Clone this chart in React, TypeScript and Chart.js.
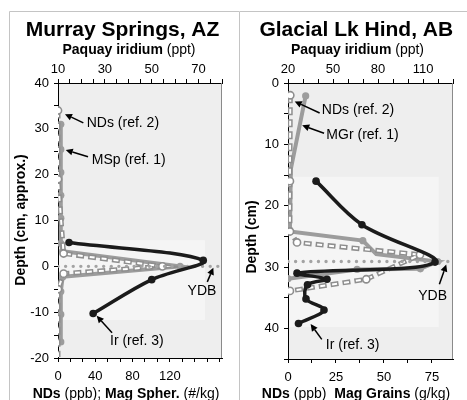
import React, { useEffect, useRef } from "react";
import { Chart, registerables } from "chart.js";
Chart.register(...registerables);

const FONT = "'Liberation Sans', Arial, Helvetica, sans-serif";

// ---------------- Murray Springs, AZ ----------------
const msNdsDepth = [34, 19, 2.8, 0, -1.6, -5, -19.8];
const msNdsValue = [0, 0, 6, 112, 6, 0, 0];
const msNdsMarked = [1, 1, 1, 1, 1, 1, 0];
const msMspDepth = [31, 25.5, 20.5, 15.5, 10.5, 5, 3.3, 0, -2.3, -5.5, -10.5, -16.5];
const msMspValue = [3, 3, 3, 3, 3, 3, 5, 131, 5, 3, 3, 3];
const msIrDepth = [5.2, 1.3, -2.9, -10.3];
const msIrValue = [14.7, 72, 50, 25];
const msYdbDepth = 0;
const msTopLabels = [10, 30, 50, 70];
const msBottomLabels = [0, 40, 80, 120];
const msDepthLabels = [-20, -10, 0, 10, 20, 30, 40];

// ---------------- Glacial Lk Hind, AB ----------------
const glNdsDepth = [2, 16, 24.2, 26, 28, 32, 33.9];
const glNdsValue = [1.2, 1, 1, 4.7, 68.8, 40.8, 1];
const glNdsMarked = [1, 1, 1, 1, 1, 1, 1];
const glMgrDepth = [2.1, 14, 24.2, 25.7, 27.9, 29.1, 30.3, 30.4, 31.9];
const glMgrValue = [9.2, 1.5, 1, 39, 46, 78, 69, 36, 0];
const glMgrMarked = [1, 0, 0, 1, 0, 1, 1, 1, 1];
const glIrDepth = [16, 23.1, 29.2, 31, 32, 32.9, 35.2, 37, 39.2];
const glIrValue = [38.7, 69.3, 118, 26, 46, 33, 32, 44, 27];
const glYdbDepth = 29.1;
const glTopLabels = [20, 50, 80, 110];
const glBottomLabels = [0, 25, 50, 75];
const glDepthLabels = [0, 10, 20, 30, 40];

type Seg = { t: string; b: boolean };
type AxisSpec = { min: number; max: number; step: number; labels: number[]; reverse?: boolean };
type Note = { text: string; tx: number; ty: number; align: CanvasTextAlign; x1: number; y1: number; x2: number; y2: number };

interface PanelSpec {
  width: number;
  plot: { left: number; right: number; top: number; bottom: number };
  title: string;
  titleX: number;
  topTitle: Seg[];
  topTitleX: number;
  bottomTitle: Seg[];
  bottomTitleX: number;
  yTitle: Seg[];
  yTitleX: number;
  yTitleY: number;
  xt: AxisSpec;
  xb: AxisSpec;
  y: AxisSpec;
  nds: { depth: number[]; value: number[]; marked: number[] };
  mag: { depth: number[]; value: number[]; marked: number[] };
  ir: { depth: number[]; value: number[] };
  ydb: number;
  irBox: { xMax: number; yA: number; yB: number };
  notes: Note[];
  frameLeft: boolean;
}

const GRAY_LINE = "#9c9c9c";
const GRAY_DASH = "#8e8e8e";
const BLACK = "#1b1b1b";

function makeTicks(a: AxisSpec) {
  const out: { value: number }[] = [];
  const n = Math.round((a.max - a.min) / a.step);
  for (let i = 0; i <= n; i++) {
    const v = a.min + i * a.step;
    if (v <= a.max + 1e-9) out.push({ value: v });
  }
  return out;
}

function drawRich(ctx: CanvasRenderingContext2D, segs: Seg[], cx: number, baseY: number, size: number) {
  let total = 0;
  const widths = segs.map((s) => {
    ctx.font = `${s.b ? "bold " : ""}${size}px ${FONT}`;
    const w = ctx.measureText(s.t).width;
    total += w;
    return w;
  });
  let x = cx - total / 2;
  ctx.textAlign = "left";
  ctx.textBaseline = "alphabetic";
  segs.forEach((s, i) => {
    ctx.font = `${s.b ? "bold " : ""}${size}px ${FONT}`;
    ctx.fillText(s.t, x, baseY);
    x += widths[i];
  });
}

function arrow(ctx: CanvasRenderingContext2D, x1: number, y1: number, x2: number, y2: number) {
  const ang = Math.atan2(y2 - y1, x2 - x1);
  const L = 7, W = 3.5;
  const bx = x2 - L * Math.cos(ang);
  const by = y2 - L * Math.sin(ang);
  ctx.strokeStyle = "#000";
  ctx.lineWidth = 1.5;
  ctx.beginPath();
  ctx.moveTo(x1, y1);
  ctx.lineTo(bx, by);
  ctx.stroke();
  ctx.fillStyle = "#000";
  ctx.beginPath();
  ctx.moveTo(x2, y2);
  ctx.lineTo(bx + W * Math.sin(ang), by - W * Math.cos(ang));
  ctx.lineTo(bx - W * Math.sin(ang), by + W * Math.cos(ang));
  ctx.closePath();
  ctx.fill();
}

function buildConfig(p: PanelSpec): any {
  const labelCb = (a: AxisSpec) => (v: any) => {
    const n = Number(v);
    const hit = a.labels.find((l) => Math.abs(l - n) < 1e-6);
    return hit === undefined ? "" : String(hit);
  };
  const scale = (a: AxisSpec, position: string, fix: (s: any) => void, pad: number) => ({
    type: "linear",
    position,
    min: a.min,
    max: a.max,
    reverse: !!a.reverse,
    afterBuildTicks: (s: any) => {
      s.ticks = makeTicks(a);
    },
    afterFit: fix,
    grid: { drawOnChartArea: false, drawTicks: true, tickLength: 4, color: "#000", lineWidth: 1 },
    border: { display: true, color: "#000", width: 1 },
    ticks: {
      autoSkip: false,
      maxRotation: 0,
      minRotation: 0,
      padding: pad,
      color: "#000",
      font: { family: FONT, size: 13 },
      callback: labelCb(a),
    },
  });

  const H = 400;
  const pts = (xs: number[], ys: number[]) => xs.map((x, i) => ({ x, y: ys[i] }));

  const datasets: any[] = [
    {
      label: "Ir",
      xAxisID: "xt",
      data: pts(p.ir.value, p.ir.depth),
      showLine: true,
      borderColor: BLACK,
      borderWidth: 3.5,
      tension: 0.35,
      pointRadius: 3.8,
      pointBackgroundColor: BLACK,
      pointBorderWidth: 0,
      order: 0,
    },
    {
      label: "YDB",
      xAxisID: "xb",
      data: [
        { x: p.xb.min, y: p.ydb },
        { x: p.xb.max, y: p.ydb },
      ],
      showLine: true,
      borderColor: "#a3a3a3",
      borderWidth: 3.4,
      borderDash: [0.01, 7.6],
      borderCapStyle: "round",
      pointRadius: 0,
      order: 1,
    },
    {
      label: "NDs inner",
      xAxisID: "xb",
      data: pts(p.nds.value, p.nds.depth),
      showLine: true,
      borderColor: "#ffffff",
      borderWidth: 2,
      borderDash: [5, 7],
      borderDashOffset: -1.5,
      pointRadius: p.nds.marked.map((m) => (m ? 3.6 : 0)),
      pointBackgroundColor: "#ffffff",
      pointBorderColor: GRAY_DASH,
      pointBorderWidth: 1.6,
      order: 2,
    },
    {
      label: "NDs",
      xAxisID: "xb",
      data: pts(p.nds.value, p.nds.depth),
      showLine: true,
      borderColor: GRAY_DASH,
      borderWidth: 5,
      borderDash: [8, 4],
      pointRadius: 0,
      order: 3,
    },
    {
      label: "Mag",
      xAxisID: "xb",
      data: pts(p.mag.value, p.mag.depth),
      showLine: true,
      borderColor: GRAY_LINE,
      borderWidth: 4,
      pointRadius: p.mag.marked.map((m) => (m ? 3.6 : 0)),
      pointBackgroundColor: GRAY_LINE,
      pointBorderWidth: 0,
      order: 4,
    },
  ];

  const deco = {
    id: "deco",
    beforeDraw(chart: any) {
      const ctx = chart.ctx as CanvasRenderingContext2D;
      const a = chart.chartArea;
      ctx.save();
      ctx.fillStyle = "#ffffff";
      ctx.fillRect(0, 0, chart.width, chart.height);
      ctx.fillStyle = "#eeeeee";
      ctx.fillRect(a.left, a.top, a.right - a.left, a.bottom - a.top);
      const xt = chart.scales.xt, y = chart.scales.y;
      const bx2 = xt.getPixelForValue(p.irBox.xMax);
      const ya = y.getPixelForValue(p.irBox.yA), yb = y.getPixelForValue(p.irBox.yB);
      ctx.fillStyle = "#f5f5f5";
      ctx.fillRect(a.left, Math.min(ya, yb), bx2 - a.left, Math.abs(yb - ya));
      // frame
      ctx.strokeStyle = "#c4c4c4";
      ctx.lineWidth = 1;
      ctx.beginPath();
      const fx = p.frameLeft ? 9.5 : 0.5;
      ctx.moveTo(fx, chart.height);
      ctx.lineTo(fx, 11.5);
      ctx.lineTo(chart.width, 11.5);
      ctx.stroke();
      ctx.restore();
    },
    afterDraw(chart: any) {
      const ctx = chart.ctx as CanvasRenderingContext2D;
      const a = chart.chartArea;
      ctx.save();
      // right border
      ctx.strokeStyle = "#8a8a8a";
      ctx.lineWidth = 1;
      ctx.beginPath();
      ctx.moveTo(Math.round(a.right) - 0.5, a.top);
      ctx.lineTo(Math.round(a.right) - 0.5, a.bottom);
      ctx.stroke();
      ctx.fillStyle = "#000";
      // titles
      ctx.font = `bold 21px ${FONT}`;
      ctx.textAlign = "center";
      ctx.textBaseline = "alphabetic";
      ctx.fillText(p.title, p.titleX, 36);
      drawRich(ctx, p.topTitle, p.topTitleX, 54, 14);
      drawRich(ctx, p.bottomTitle, p.bottomTitleX, 398, 14);
      ctx.save();
      ctx.translate(p.yTitleX, p.yTitleY);
      ctx.rotate(-Math.PI / 2);
      drawRich(ctx, p.yTitle, 0, 0, 14);
      ctx.restore();
      // notes
      const xb = chart.scales.xb, y = chart.scales.y;
      p.notes.forEach((n) => {
        arrow(ctx, xb.getPixelForValue(n.x1), y.getPixelForValue(n.y1), xb.getPixelForValue(n.x2), y.getPixelForValue(n.y2));
        ctx.fillStyle = "#000";
        ctx.font = `14px ${FONT}`;
        ctx.textAlign = n.align;
        ctx.textBaseline = "middle";
        ctx.fillText(n.text, xb.getPixelForValue(n.tx), y.getPixelForValue(n.ty));
      });
      ctx.restore();
    },
  };

  return {
    type: "scatter",
    data: { datasets },
    options: {
      responsive: false,
      maintainAspectRatio: false,
      animation: false,
      devicePixelRatio: 1,
      layout: { padding: { left: 0, top: 0, right: p.width - p.plot.right, bottom: 0 } },
      plugins: { legend: { display: false }, tooltip: { enabled: false }, title: { display: false } },
      scales: {
        xt: scale(p.xt, "top", (s: any) => { s.height = p.plot.top; }, 2),
        xb: scale(p.xb, "bottom", (s: any) => { s.height = H - p.plot.bottom; }, 7),
        y: scale(p.y, "left", (s: any) => { s.width = p.plot.left; }, 5),
      },
    },
    plugins: [deco],
  };
}

const murray: PanelSpec = {
  width: 239,
  plot: { left: 58, right: 222, top: 83, bottom: 358 },
  title: "Murray Springs, AZ",
  titleX: 122.5,
  topTitle: [{ t: "Paquay iridium ", b: true }, { t: "(ppt)", b: false }],
  topTitleX: 129,
  bottomTitle: [
    { t: "NDs", b: true },
    { t: " (ppb); ", b: false },
    { t: "Mag Spher.", b: true },
    { t: " (#/kg)", b: false },
  ],
  bottomTitleX: 126,
  yTitle: [{ t: "Depth (cm, approx.)", b: true }],
  yTitleX: 25,
  yTitleY: 220,
  xt: { min: 10, max: 80, step: 5, labels: msTopLabels },
  xb: { min: 0, max: 176, step: 40 / 3, labels: msBottomLabels },
  y: { min: -20, max: 40, step: 5, labels: msDepthLabels },
  nds: { depth: msNdsDepth, value: msNdsValue, marked: msNdsMarked },
  mag: { depth: msMspDepth, value: msMspValue, marked: msMspDepth.map(() => 1) },
  ir: { depth: msIrDepth, value: msIrValue },
  ydb: msYdbDepth,
  irBox: { xMax: 72.7, yA: 5.7, yB: -11.7 },
  notes: [
    { text: "NDs (ref. 2)", tx: 30.8, ty: 31.2, align: "left", x1: 27.2, y1: 31.3, x2: 7.5, y2: 33.2 },
    { text: "MSp (ref. 1)", tx: 36.2, ty: 23.2, align: "left", x1: 32.2, y1: 23.9, x2: 8.3, y2: 25.4 },
    { text: "YDB", tx: 154.5, ty: -5.5, align: "center", x1: 160.2, y1: -3.4, x2: 166.7, y2: -0.3 },
    { text: "Ir (ref. 3)", tx: 55.8, ty: -16.4, align: "left", x1: 58, y1: -14.5, x2: 41.5, y2: -10.8 },
  ],
  frameLeft: true,
};

const glacial: PanelSpec = {
  width: 228,
  plot: { left: 49, right: 214, top: 83, bottom: 359 },
  title: "Glacial Lk Hind, AB",
  titleX: 117.3,
  topTitle: [{ t: "Paquay iridium ", b: true }, { t: "(ppt)", b: false }],
  topTitleX: 118.5,
  bottomTitle: [
    { t: "NDs", b: true },
    { t: " (ppb)  ", b: false },
    { t: "Mag Grains", b: true },
    { t: " (g/kg)", b: false },
  ],
  bottomTitleX: 117,
  yTitle: [{ t: "Depth (cm)", b: true }],
  yTitleX: 17,
  yTitleY: 237,
  xt: { min: 20, max: 130, step: 10, labels: glTopLabels },
  xb: { min: 0, max: 86, step: 12.5, labels: glBottomLabels },
  y: { min: 0, max: 45, step: 5, labels: glDepthLabels, reverse: true },
  nds: { depth: glNdsDepth, value: glNdsValue, marked: glNdsMarked },
  mag: { depth: glMgrDepth, value: glMgrValue, marked: glMgrMarked },
  ir: { depth: glIrDepth, value: glIrValue },
  ydb: glYdbDepth,
  irBox: { xMax: 120.5, yA: 15.3, yB: 39.8 },
  notes: [
    { text: "NDs (ref. 2)", tx: 17.6, ty: 4.5, align: "left", x1: 16.5, y1: 4.9, x2: 3.5, y2: 3.0 },
    { text: "MGr (ref. 1)", tx: 20, ty: 8.5, align: "left", x1: 18.8, y1: 8.2, x2: 7.4, y2: 6.9 },
    { text: "YDB", tx: 75.4, ty: 34.8, align: "center", x1: 78.9, y1: 32.8, x2: 82.5, y2: 29.6 },
    { text: "Ir (ref. 3)", tx: 19.7, ty: 42.8, align: "left", x1: 17.6, y1: 41.8, x2: 11.8, y2: 39.3 },
  ],
  frameLeft: false,
};

function Panel({ spec, left }: { spec: PanelSpec; left: number }) {
  const ref = useRef<HTMLCanvasElement>(null);
  useEffect(() => {
    const chart = new Chart(ref.current as HTMLCanvasElement, buildConfig(spec));
    return () => chart.destroy();
  }, [spec]);
  return (
    <canvas
      ref={ref}
      width={spec.width}
      height={400}
      style={{ position: "absolute", left, top: 0, width: spec.width, height: 400 }}
    />
  );
}

export default function App() {
  return (
    <div style={{ position: "absolute", left: 0, top: 0, width: 467, height: 400, background: "#fff", overflow: "hidden" }}>
      <Panel spec={murray} left={0} />
      <Panel spec={glacial} left={239} />
    </div>
  );
}
